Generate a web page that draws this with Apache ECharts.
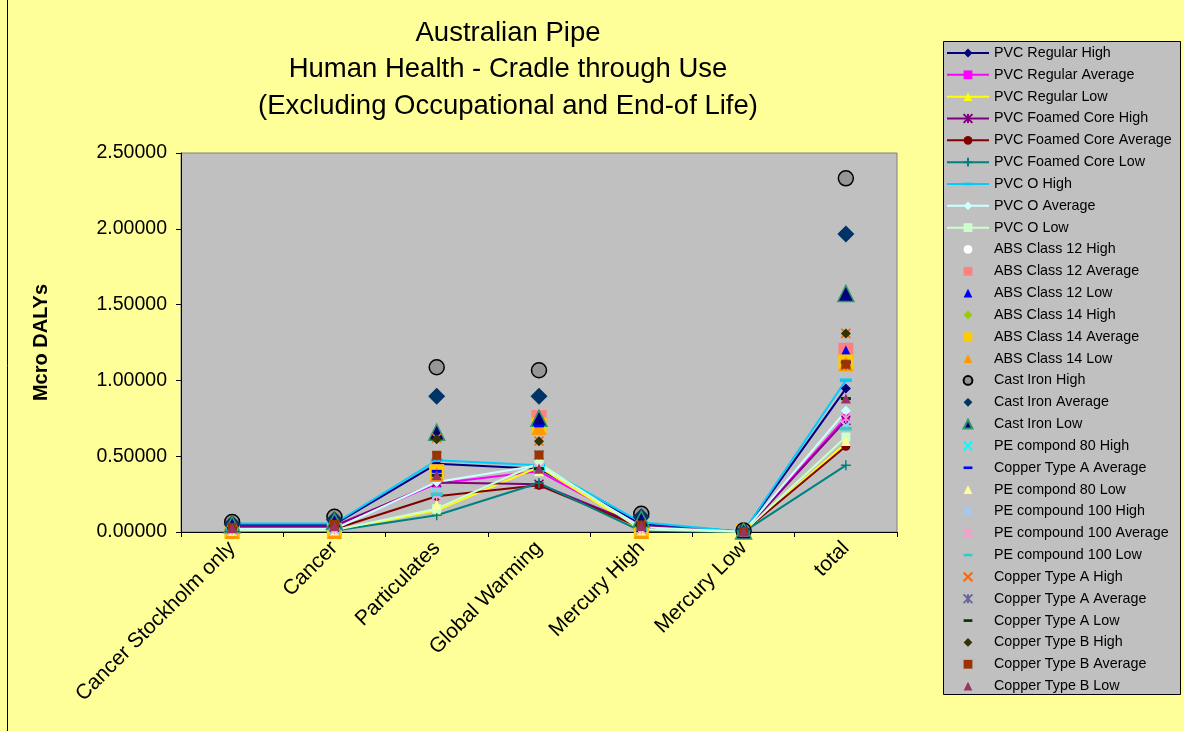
<!DOCTYPE html>
<html>
<head>
<meta charset="utf-8">
<script src="https://cdn.jsdelivr.net/npm/echarts@6/dist/echarts.min.js"></script>
<style>
  html, body { margin: 0; padding: 0; background: #FFFF99; }
  #chart { width: 1184px; height: 731px; }
</style>
</head>
<body>
<div id="chart"></div>
<script>
// Impact categories along the x axis
const categories = ['Cancer Stockholm only', 'Cancer', 'Particulates', 'Global Warming', 'Mercury High', 'Mercury Low', 'total'];

// Y axis ticks (Micro DALYs)
const yMin = 0, yMax = 2.5, yStep = 0.5;

// Series values, one per category
const pvcRegularHigh        = [0.050, 0.050, 0.450, 0.418, 0.052, 0.002, 0.946];
const pvcRegularAverage     = [0.032, 0.032, 0.320, 0.400, 0.038, 0.001, 0.755];
const pvcRegularLow         = [0.010, 0.010, 0.143, 0.430, 0.012, 0.001, 0.583];
const pvcFoamedCoreHigh     = [0.040, 0.040, 0.326, 0.315, 0.042, 0.001, 0.737];
const pvcFoamedCoreAverage  = [0.020, 0.020, 0.236, 0.308, 0.030, 0.001, 0.566];
const pvcFoamedCoreLow      = [0.008, 0.008, 0.110, 0.323, 0.006, 0.001, 0.440];
const pvcOHigh              = [0.056, 0.056, 0.473, 0.440, 0.064, 0.002, 1.001];
const pvcOAverage           = [0.020, 0.020, 0.330, 0.440, 0.032, 0.001, 0.799];
const pvcOLow               = [0.012, 0.012, 0.154, 0.455, 0.016, 0.001, 0.627];
const absClass12High        = [0.010, 0.012, 0.400, 0.750, 0.008, 0.004, 1.200];
const absClass12Average     = [0.010, 0.012, 0.398, 0.755, 0.008, 0.004, 1.199];
const absClass12Low         = [0.010, 0.012, 0.390, 0.740, 0.008, 0.004, 1.190];
const absClass14High        = [0.004, 0.004, 0.396, 0.704, 0.005, 0.003, 1.122];
const absClass14Average     = [0.004, 0.004, 0.396, 0.704, 0.005, 0.003, 1.122];
const absClass14Low         = [0.003, 0.003, 0.380, 0.690, 0.004, 0.003, 1.110];
const castIronHigh          = [0.066, 0.100, 1.087, 1.067, 0.120, 0.010, 2.333];
const castIronAverage       = [0.055, 0.080, 0.896, 0.896, 0.100, 0.008, 1.965];
const castIronLow           = [0.048, 0.070, 0.658, 0.750, 0.085, 0.006, 1.574];
const peCompond80High       = [0.015, 0.020, 0.255, 0.410, 0.020, 0.002, 0.700];
const copperTypeAAverage2   = [0.010, 0.012, 0.400, 0.700, 0.008, 0.003, 1.120];
const peCompond80Low        = [0.008, 0.010, 0.180, 0.400, 0.010, 0.001, 0.600];
const peCompound100High     = [0.012, 0.015, 0.250, 0.420, 0.015, 0.002, 0.700];
const peCompound100Average  = [0.012, 0.015, 0.240, 0.420, 0.015, 0.002, 0.750];
const peCompound100Low      = [0.015, 0.020, 0.249, 0.410, 0.020, 0.002, 0.682];
const copperTypeAHigh       = [0.030, 0.050, 0.620, 0.600, 0.050, 0.003, 1.310];
const copperTypeAAverage    = [0.030, 0.050, 0.500, 0.508, 0.045, 0.003, 1.100];
const copperTypeALow        = [0.025, 0.040, 0.374, 0.418, 0.040, 0.002, 0.880];
const copperTypeBHigh       = [0.030, 0.050, 0.612, 0.599, 0.050, 0.003, 1.310];
const copperTypeBAverage    = [0.030, 0.050, 0.506, 0.508, 0.045, 0.003, 1.107];
const copperTypeBLow        = [0.025, 0.040, 0.374, 0.418, 0.040, 0.002, 0.880];

// Legend names in drawing order (the second "Copper Type A Average" carries a trailing space so both entries stay distinct)
const seriesNames = [
  'PVC Regular High', 'PVC Regular Average', 'PVC Regular Low',
  'PVC Foamed Core High', 'PVC Foamed Core Average', 'PVC Foamed Core Low',
  'PVC O High', 'PVC O Average', 'PVC O Low',
  'ABS Class 12 High', 'ABS Class 12 Average', 'ABS Class 12 Low',
  'ABS Class 14 High', 'ABS Class 14 Average', 'ABS Class 14 Low',
  'Cast Iron High', 'Cast Iron Average', 'Cast Iron Low',
  'PE compond 80 High', 'Copper Type A Average ', 'PE compond 80 Low',
  'PE compound 100 High', 'PE compound 100 Average', 'PE compound 100 Low',
  'Copper Type A High', 'Copper Type A Average', 'Copper Type A Low',
  'Copper Type B High', 'Copper Type B Average', 'Copper Type B Low'
];
const seriesValues = [
  pvcRegularHigh, pvcRegularAverage, pvcRegularLow,
  pvcFoamedCoreHigh, pvcFoamedCoreAverage, pvcFoamedCoreLow,
  pvcOHigh, pvcOAverage, pvcOLow,
  absClass12High, absClass12Average, absClass12Low,
  absClass14High, absClass14Average, absClass14Low,
  castIronHigh, castIronAverage, castIronLow,
  peCompond80High, copperTypeAAverage2, peCompond80Low,
  peCompound100High, peCompound100Average, peCompound100Low,
  copperTypeAHigh, copperTypeAAverage, copperTypeALow,
  copperTypeBHigh, copperTypeBAverage, copperTypeBLow
];

// Marker shapes
const X_MARK = 'path://M0,0L10,10M10,0L0,10';
const PLUS_MARK = 'path://M5,0L5,10M0,5L10,5';
const STAR_MARK = 'path://M0,0L10,10M10,0L0,10M5,0L5,10';
const DASH_MARK = 'path://M0,0L0,0M0,3.5L10,3.5L10,6.5L0,6.5ZM10,10L10,10';

// [symbol, size, fill, stroke, strokeWidth, connected by a line]
const seriesStyles = [
  ['diamond', 10, '#000080', '#000080', 0, true],
  ['rect', 8, '#FF00FF', '#FF00FF', 0, true],
  ['triangle', 9, '#FFFF00', '#FFFF00', 0, true],
  [STAR_MARK, 9, '#800080', '#800080', 1.5, true],
  ['circle', 9, '#800000', '#800000', 0, true],
  [PLUS_MARK, 10, '#008080', '#008080', 1.5, true],
  [DASH_MARK, 12, '#00CCFF', '#00CCFF', 0, true],
  ['diamond', 10, '#CCFFFF', '#CCFFFF', 0, true],
  ['rect', 9, '#CCFFCC', '#CCFFCC', 0, true],
  ['circle', 9, '#FFFFFF', '#FFFFFF', 0, false],
  ['rect', 15, '#FF8080', '#FF8080', 0, false],
  ['triangle', 12, '#0000FF', '#0000FF', 0, false],
  ['diamond', 10, '#99CC00', '#99CC00', 0, false],
  ['rect', 15, '#FFCC00', '#FFCC00', 0, false],
  ['triangle', 15, '#FF9900', '#FF9900', 0, false],
  ['circle', 15, '#969696', '#000000', 1.5, false],
  ['diamond', 17, '#003366', '#003366', 0, false],
  ['triangle', 16, '#000080', '#339966', 1.5, false],
  [X_MARK, 9, '#00FFFF', '#00FFFF', 1.5, false],
  [DASH_MARK, 10, '#0000FF', '#0000FF', 0, false],
  ['triangle', 10, '#FFFF99', '#FFFF99', 0, false],
  [X_MARK, 9, '#99CCFF', '#99CCFF', 1.5, false],
  [STAR_MARK, 9, '#FF99CC', '#FF99CC', 1.5, false],
  [DASH_MARK, 12, '#33CCCC', '#33CCCC', 0, false],
  [X_MARK, 9, '#FF6600', '#FF6600', 1.5, false],
  [STAR_MARK, 9, '#666699', '#666699', 1.5, false],
  [DASH_MARK, 10, '#003300', '#003300', 0, false],
  ['diamond', 10, '#333300', '#333300', 0, false],
  ['rect', 9, '#993300', '#993300', 0, false],
  ['triangle', 10, '#993366', '#993366', 0, false]
];

const FONT = "'Liberation Sans', Arial, sans-serif";

const series = seriesNames.map((name, i) => {
  const [symbol, size, fill, stroke, strokeWidth, hasLine] = seriesStyles[i];
  return {
    name: name,
    type: 'line',
    data: seriesValues[i],
    symbol: symbol,
    symbolSize: size,
    showAllSymbol: true,
    clip: false,
    itemStyle: { color: fill, borderColor: stroke, borderWidth: strokeWidth, opacity: 1 },
    lineStyle: hasLine ? { color: fill, width: 2 } : { color: fill, width: 0, opacity: 0 },
    emphasis: { disabled: true }
  };
});

const chart = echarts.init(document.getElementById('chart'), null, { renderer: 'canvas' });
chart.setOption({
  backgroundColor: '#FFFF99',
  animation: false,
  textStyle: { fontFamily: FONT },
  title: {
    text: 'Australian Pipe\nHuman Health - Cradle through Use\n(Excluding Occupational and End-of Life)',
    left: 508,
    top: 15,
    padding: 0,
    textAlign: 'center',
    textStyle: { fontFamily: FONT, fontSize: 27.5, fontWeight: 'normal', color: '#000', lineHeight: 36.5 }
  },
  graphic: [
    { type: 'rect', z: -10, silent: true,
      shape: { x: 943.5, y: 41.5, width: 237, height: 653 },
      style: { fill: '#C0C0C0', stroke: '#000', lineWidth: 1 } },
    { type: 'line', z: 10, silent: true,
      shape: { x1: 7.5, y1: 0, x2: 7.5, y2: 731 },
      style: { stroke: '#000', lineWidth: 1 } }
  ],
  legend: {
    orient: 'vertical',
    left: 946,
    top: 46,
    padding: 0,
    itemWidth: 42,
    itemHeight: 11,
    itemGap: 7.83,
    selectedMode: false,
    textStyle: { fontFamily: FONT, fontSize: 14.3, color: '#000', lineHeight: 14 },
    data: seriesNames
  },
  grid: {
    left: 181, top: 153, right: 287, bottom: 199,
    show: true, backgroundColor: '#C0C0C0', borderColor: '#808080', borderWidth: 1
  },
  xAxis: {
    type: 'category',
    data: categories,
    boundaryGap: true,
    axisLine: { show: true, lineStyle: { color: '#000', width: 1 } },
    axisTick: { show: true, alignWithLabel: false, length: 5, lineStyle: { color: '#000' } },
    axisLabel: { interval: 0, rotate: 45, margin: 13, fontSize: 21, color: '#000', fontFamily: FONT },
    splitLine: { show: false }
  },
  yAxis: {
    type: 'value',
    min: yMin, max: yMax, interval: yStep,
    name: 'Mcro DALYs',
    nameLocation: 'middle',
    nameRotate: 90,
    nameGap: 130,
    nameTextStyle: { fontFamily: FONT, fontSize: 20, fontWeight: 'bold', color: '#000' },
    axisLine: { show: true, lineStyle: { color: '#000', width: 1 } },
    axisTick: { show: true, length: 5, lineStyle: { color: '#000' } },
    axisLabel: { margin: 14, fontSize: 19.5, color: '#000', fontFamily: FONT, formatter: v => v.toFixed(5) },
    splitLine: { show: false }
  },
  series: series
});
</script>
</body>
</html>
